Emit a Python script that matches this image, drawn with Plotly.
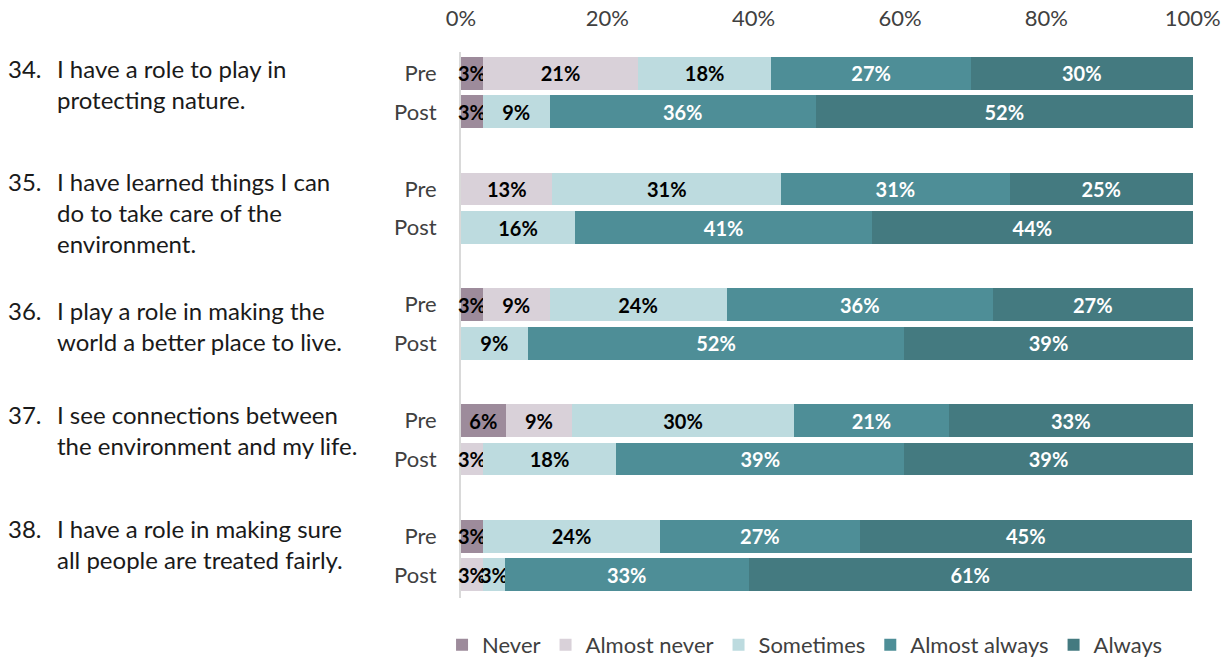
import plotly.graph_objects as go

# ---------------- data ----------------
question_numbers = ["34.", "35.", "36.", "37.", "38."]
question_lines = [
    ["I have a role to play in", "protecting nature."],
    ["I have learned things I can", "do to take care of the", "environment."],
    ["I play a role in making the", "world a better place to live."],
    ["I see connections between", "the environment and my life."],
    ["I have a role in making sure", "all people are treated fairly."],
]
phases = ["Pre", "Post"]
categories = ["Never", "Almost never", "Sometimes", "Almost always", "Always"]

# rows: 34 Pre, 34 Post, 35 Pre, 35 Post, ... 38 Post  (percent)
never         = [3.0, 3.0, 0.0, 0.0, 3.0, 0.0, 6.1, 0.0, 3.0, 0.0]
almost_never  = [21.2, 0.0, 12.5, 0.0, 9.1, 0.0, 9.1, 3.0, 0.0, 3.0]
sometimes     = [18.2, 9.1, 31.25, 15.6, 24.2, 9.1, 30.3, 18.2, 24.2, 3.0]
almost_always = [27.3, 36.4, 31.25, 40.6, 36.4, 51.5, 21.2, 39.4, 27.3, 33.3]
always        = [30.3, 51.5, 25.0, 43.8, 27.3, 39.4, 33.3, 39.4, 45.4, 60.6]

x_tick_values = [0, 20, 40, 60, 80, 100]
x_tick_labels = ["0%", "20%", "40%", "60%", "80%", "100%"]

# ---------------- style ----------------
series = [never, almost_never, sometimes, almost_always, always]
colors = ["#9D8B9B", "#D9D1D9", "#BDDBDF", "#4E8E97", "#447A80"]
label_colors = ["#000000", "#000000", "#000000", "#FFFFFF", "#FFFFFF"]
FONT = "Lato, Carlito, Calibri, sans-serif"

# row positions (Pre/Post pairs with a gap between questions)
y_pos = []
y_text = []
for i in range(len(question_numbers)):
    for j, p in enumerate(phases):
        y_pos.append(3 * i + j)
        y_text.append(p)

fig = go.Figure()
for name, vals, col, tcol in zip(categories, series, colors, label_colors):
    fig.add_trace(go.Bar(
        name=name,
        y=y_pos,
        x=vals,
        orientation="h",
        width=0.85,
        marker=dict(color=col, line=dict(width=0)),
        text=[f"{int(v + 0.5)}%" if v > 0 else "" for v in vals],
        textposition="inside",
        insidetextanchor="middle",
        constraintext="none",
        textangle=0,
        cliponaxis=False,
        textfont=dict(family=FONT, size=20, color=tcol, weight="bold"),
        hoverinfo="skip",
    ))

# question text (hanging indent), block centres relative to each question's Pre row
block_offsets = [0.27, 0.60, 0.54, 0.25, 0.20]
line_step = 0.80
PLOT_L, PLOT_R = 461, 1193
def px_to_paper(px):
    return (px - PLOT_L) / (PLOT_R - PLOT_L)

annotations = []
for i, (num, lines) in enumerate(zip(question_numbers, question_lines)):
    center = 3 * i + block_offsets[i]
    n = len(lines)
    for k, line in enumerate(lines):
        yk = center + (k - (n - 1) / 2) * line_step
        if k == 0:
            annotations.append(dict(
                x=px_to_paper(6), xref="paper", y=yk, yref="y",
                text=num, showarrow=False, xanchor="left", yanchor="middle",
                font=dict(family=FONT, size=24, color="#1A1A1A")))
        annotations.append(dict(
            x=px_to_paper(55), xref="paper", y=yk, yref="y",
            text=line, showarrow=False, xanchor="left", yanchor="middle",
            font=dict(family=FONT, size=24, color="#1A1A1A")))

fig.update_layout(
    barmode="stack",
    width=1229, height=658,
    margin=dict(l=PLOT_L, r=1229 - PLOT_R, t=52, b=60, autoexpand=False),
    paper_bgcolor="white", plot_bgcolor="white",
    font=dict(family=FONT, color="#404040"),
    showlegend=True,
    legend=dict(orientation="h", x=0.47, xanchor="center", y=-0.086, yanchor="middle",
                font=dict(family=FONT, size=22, color="#404040"),
                traceorder="normal", itemwidth=30, bgcolor="rgba(0,0,0,0)"),
    annotations=annotations,
    xaxis=dict(range=[0, 100.05], side="top", tickvals=x_tick_values, ticktext=x_tick_labels,
               showgrid=False, zeroline=False, showline=False,
               ticks="outside", ticklen=16, tickcolor="rgba(0,0,0,0)",
               tickfont=dict(family=FONT, size=22, color="#404040"), fixedrange=True),
    yaxis=dict(range=[13.6, -0.55], tickvals=y_pos, ticktext=y_text,
               showgrid=False, zeroline=False, showline=True, linecolor="#D9D9D9", linewidth=2,
               layer="below traces",
               ticks="outside", ticklen=18, tickcolor="rgba(0,0,0,0)",
               tickfont=dict(family=FONT, size=22, color="#404040"), fixedrange=True),
)

fig.write_html("out.html")
